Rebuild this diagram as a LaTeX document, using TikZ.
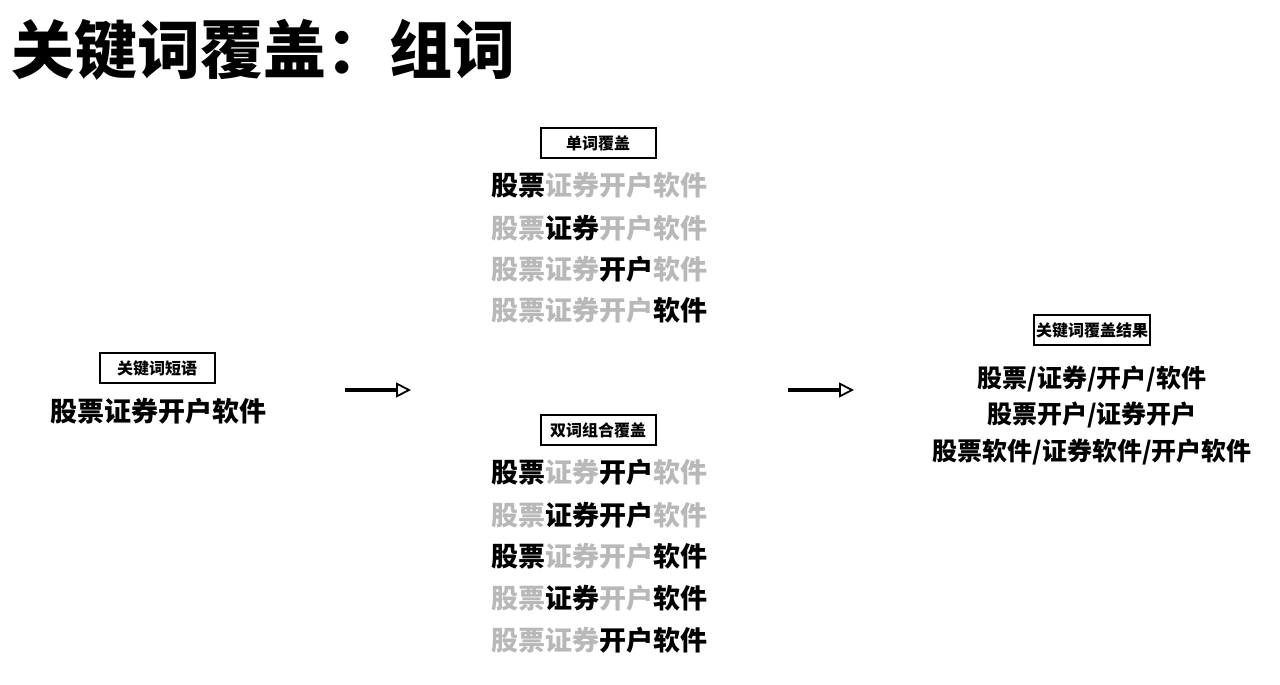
\documentclass[tikz,border=0pt]{standalone}
\usepackage{fontspec}
\setmainfont{Noto Sans CJK SC}
\usetikzlibrary{arrows.meta}
\definecolor{fadegray}{gray}{0.72}
\newcommand{\faded}[1]{\textcolor{fadegray}{#1}}
\tikzset{
	title/.style={font=\fontsize{63}{70}\selectfont\bfseries, inner sep=0pt},
	tagbox/.style={draw, line width=2pt, minimum width=115pt, minimum height=30pt, inner sep=2pt, font=\fontsize{16}{18}\selectfont\bfseries},
	item/.style={font=\fontsize{27}{30}\selectfont\bfseries, inner sep=0pt},
	result/.style={font=\fontsize{25}{28}\selectfont\bfseries, inner sep=0pt},
	flow/.style={line width=3.5pt, -{Triangle[open, length=15pt, width=15pt, line width=1.8pt]}}
}
\begin{document}
\begin{tikzpicture}[x=1pt,y=-1pt]
	\useasboundingbox (0,0) rectangle (1280,685);
	\node[title, anchor=west] (title) at (11,50) {关键词覆盖：组词};

	% left: source phrase
	\node[tagbox] (srcTag) at (157,368) {关键词短语};
	\node[item] (src) at (158,411) {股票证券开户软件};

	% middle top: single words
	\node[tagbox] (oneTag) at (598,143) {单词覆盖};
	\node[item] (oneA) at (599,185) {股票\faded{证券开户软件}};
	\node[item] (oneB) at (599,228) {\faded{股票}证券\faded{开户软件}};
	\node[item] (oneC) at (599,269) {\faded{股票证券}开户\faded{软件}};
	\node[item] (oneD) at (599,310) {\faded{股票证券开户}软件};

	% middle bottom: word pairs
	\node[tagbox] (twoTag) at (598,430) {双词组合覆盖};
	\node[item] (twoA) at (599,472) {股票\faded{证券}开户\faded{软件}};
	\node[item] (twoB) at (599,515) {\faded{股票}证券开户\faded{软件}};
	\node[item] (twoC) at (599,556) {股票\faded{证券开户}软件};
	\node[item] (twoD) at (599,598) {\faded{股票}证券\faded{开户}软件};
	\node[item] (twoE) at (599,640) {\faded{股票证券}开户软件};

	% right: result
	\node[tagbox] (resTag) at (1092,330) {关键词覆盖结果};
	\node[result] (resA) at (1092,379) {股票/证券/开户/软件};
	\node[result] (resB) at (1092,415) {股票开户/证券开户};
	\node[result] (resC) at (1092,452) {股票软件/证券软件/开户软件};

	% arrows
	\coordinate (arrLs) at (345,390);
	\coordinate (arrLe) at (411,390);
	\coordinate (arrRs) at (788,390);
	\coordinate (arrRe) at (854,390);
	\draw[flow] (arrLs) -- (arrLe);
	\draw[flow] (arrRs) -- (arrRe);
\end{tikzpicture}
\end{document}
